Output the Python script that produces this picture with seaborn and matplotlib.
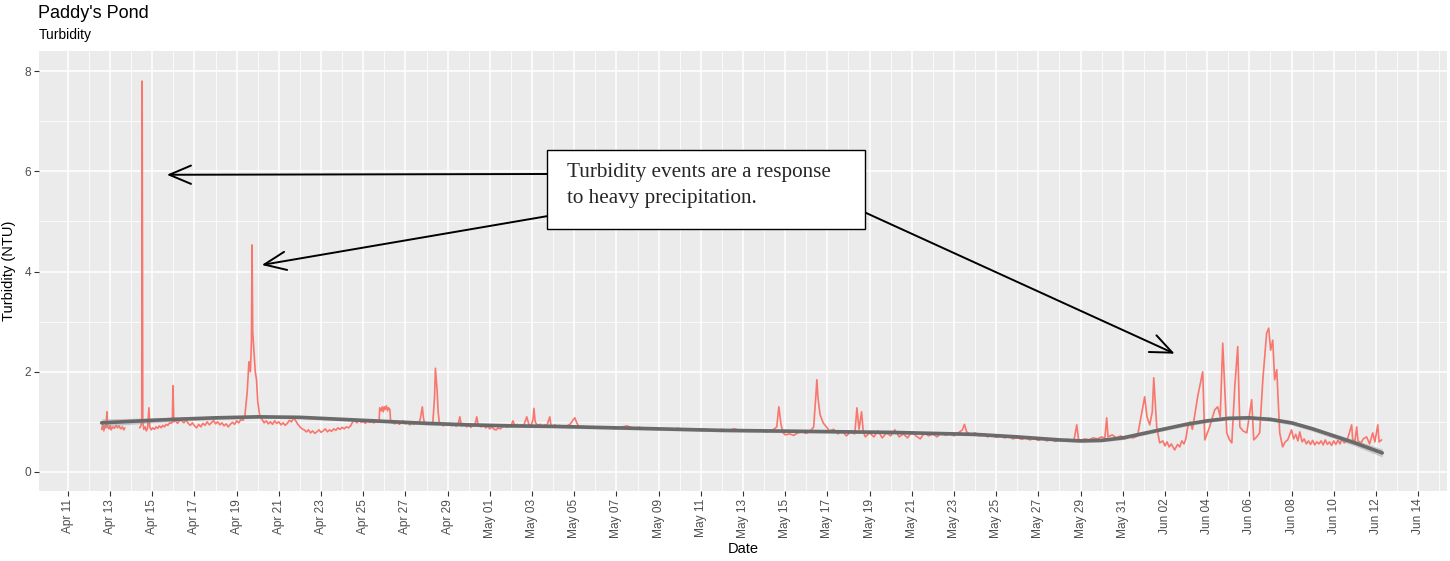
import numpy as np
import pandas as pd
import matplotlib
matplotlib.use("Agg")
import matplotlib.pyplot as plt
import matplotlib.dates as mdates
from matplotlib.patches import Rectangle
import seaborn as sns

# ---------------- data (days after Apr 11, 2019) ----------------
start_date = "2019-04-11"

seg1_days = [1.60, 1.65, 1.70, 1.75, 1.80, 1.85, 1.88, 1.95, 2.00, 2.05, 2.12, 2.20, 2.28,
             2.35, 2.42, 2.50, 2.58, 2.65, 2.70]
seg1_vals = [0.85, 0.95, 0.82, 0.92, 0.88, 1.20, 0.90, 0.86, 0.93, 0.84, 0.90, 0.87, 0.93,
             0.88, 0.92, 0.86, 0.90, 0.84, 0.88]

apr_days = [3.40, 3.46, 3.50, 3.52, 3.55, 3.60, 3.66, 3.72, 3.78, 3.84, 3.88, 3.95, 4.02, 4.10,
            4.18, 4.26, 4.34, 4.42, 4.50, 4.58, 4.66, 4.74, 4.82, 4.90, 4.95, 4.98, 5.02, 5.10,
            5.20, 5.30, 5.40, 5.50, 5.60, 5.70, 5.80, 5.90, 6.00, 6.10, 6.20, 6.30, 6.40, 6.50,
            6.60, 6.70, 6.80, 6.90, 7.00, 7.10, 7.20, 7.30, 7.40, 7.50, 7.60, 7.70, 7.80, 7.90,
            8.00, 8.10, 8.20, 8.30, 8.39, 8.50, 8.58, 8.65, 8.70, 8.73, 8.76, 8.82, 8.88, 8.94,
            9.00, 9.10, 9.20, 9.30, 9.40, 9.50, 9.60, 9.70, 9.80, 9.90, 10.0, 10.1, 10.2, 10.3,
            10.4, 10.5, 10.6, 10.7, 10.8, 10.9, 11.0, 11.1, 11.2, 11.3, 11.4, 11.5, 11.6, 11.7,
            11.8, 11.9, 12.0, 12.1, 12.2, 12.3, 12.4, 12.5, 12.6, 12.7, 12.8, 12.9, 13.0, 13.1,
            13.2, 13.3, 13.4, 13.5, 13.6, 13.7, 13.8, 13.9, 14.0, 14.1, 14.2, 14.3, 14.4, 14.5,
            14.6, 14.75, 14.78, 14.85, 14.9, 14.95, 15.0, 15.05, 15.1, 15.15, 15.2, 15.26, 15.3,
            15.4, 15.5, 15.6, 15.7, 15.8, 15.9, 16.0, 16.1, 16.2, 16.3, 16.4, 16.5, 16.6, 16.7,
            16.8, 16.85, 16.9, 17.0, 17.1, 17.2, 17.3, 17.38, 17.42, 17.46, 17.5, 17.55, 17.6,
            17.7, 17.8, 17.9, 18.0, 18.1, 18.2, 18.3, 18.4, 18.5, 18.58, 18.65, 18.8, 18.9, 19.0,
            19.1, 19.2, 19.3, 19.38, 19.45, 19.6, 19.7, 19.8, 19.9]
apr_vals = [0.88, 0.92, 1.00, 7.80, 1.00, 0.85, 0.90, 0.82, 0.88, 1.28, 0.90, 0.84, 0.88, 0.85,
            0.90, 0.87, 0.92, 0.88, 0.93, 0.90, 0.95, 0.93, 0.98, 0.97, 1.00, 1.72, 1.00, 1.02,
            0.97, 1.04, 1.02, 0.98, 1.04, 0.97, 0.93, 0.98, 0.92, 0.88, 0.95, 0.90, 0.97, 0.93,
            1.00, 0.94, 0.98, 1.03, 0.96, 1.00, 0.94, 0.98, 0.92, 0.96, 0.90, 0.95, 0.99, 0.95,
            1.02, 0.98, 1.05, 1.03, 1.12, 1.60, 2.20, 2.00, 2.60, 4.53, 2.80, 2.40, 2.00, 1.84,
            1.40, 1.10, 1.05, 0.98, 1.02, 0.96, 1.00, 0.95, 1.02, 0.97, 1.00, 0.94, 0.98, 0.93,
            0.97, 1.03, 1.00, 1.08, 1.02, 0.95, 0.90, 0.86, 0.84, 0.80, 0.84, 0.78, 0.82, 0.77,
            0.80, 0.84, 0.79, 0.82, 0.86, 0.80, 0.84, 0.81, 0.86, 0.83, 0.88, 0.85, 0.89, 0.86,
            0.90, 0.88, 0.92, 1.00, 1.02, 0.98, 1.03, 0.99, 1.01, 0.97, 1.02, 0.99, 1.00, 0.98,
            1.01, 1.00, 1.28, 1.22, 1.30, 1.20, 1.30, 1.25, 1.32, 1.22, 1.28, 1.25, 1.00,
            0.98, 0.96, 1.00, 0.95, 0.98, 1.02, 0.96, 0.99, 0.94, 0.97, 0.95, 0.99, 0.96, 1.05,
            1.30, 1.08, 0.98, 0.95, 0.97, 0.95, 1.00, 1.50, 2.07, 1.85, 1.63, 1.20, 1.00,
            0.95, 0.92, 0.96, 0.93, 0.97, 0.92, 0.95, 0.91, 0.96, 1.10, 0.92, 0.95, 0.90, 0.94,
            0.89, 0.93, 0.95, 1.10, 0.93, 0.90, 0.93, 0.88, 0.91]

may_days = [20.0, 20.1, 20.2, 20.3, 20.4, 20.5, 20.6, 20.7, 20.8, 20.9, 21.0, 21.09, 21.2, 21.3,
            21.4, 21.5, 21.6, 21.75, 21.85, 21.95, 22.05, 22.09, 22.15, 22.25, 22.4, 22.5, 22.6,
            22.7, 22.84, 22.9, 23.0, 23.1, 23.2, 23.3, 23.4, 23.5, 23.6, 23.7, 23.8, 23.95, 24.03,
            24.1, 24.2, 24.3, 24.4, 24.7, 25.0, 25.3, 25.6, 25.9, 26.2, 26.5, 26.8, 27.1, 27.4,
            27.7, 28.0, 28.3, 28.6, 28.9, 29.2, 29.5, 29.8, 30.1, 30.4, 30.7, 31.0, 31.3, 31.6,
            31.9, 32.2, 32.5, 32.8, 33.1, 33.4, 33.6, 33.7, 33.8, 33.9, 34.0, 34.2, 34.4, 34.6,
            34.8, 35.0, 35.2, 35.35, 35.45, 35.5, 35.55, 35.65, 35.8, 35.95, 36.1, 36.3, 36.5,
            36.7, 36.9, 37.1, 37.3, 37.4, 37.5, 37.62, 37.7, 37.8, 38.0, 38.2, 38.4, 38.6, 38.8,
            39.0, 39.2, 39.4, 39.6, 39.8, 40.0, 40.2, 40.4, 40.6, 40.8, 41.0, 41.2, 41.4, 41.6,
            41.8, 42.0, 42.2, 42.4, 42.5, 42.6, 42.8, 43.0, 43.2, 43.4, 43.6, 43.8, 44.0, 44.2,
            44.4, 44.6, 44.8, 45.0, 45.2, 45.4, 45.6, 45.8, 46.0, 46.2, 46.4, 46.6, 46.8, 47.0,
            47.2, 47.4, 47.6, 47.7, 47.82, 47.9, 48.0, 48.2, 48.4, 48.6, 48.8, 49.0, 49.15,
            49.24, 49.3, 49.5, 49.7, 49.9, 50.1, 50.3, 50.5, 50.7]
may_vals = [0.86, 0.90, 0.85, 0.84, 0.88, 0.86, 0.90, 0.92, 0.89, 0.93, 0.90, 1.02, 0.92, 0.95,
            0.91, 0.94, 0.92, 1.10, 0.95, 0.92, 1.05, 1.27, 1.00, 0.93, 0.95, 0.91, 0.94,
            0.92, 1.10, 0.93, 0.91, 0.94, 0.90, 0.93, 0.89, 0.92, 0.90, 0.93, 0.95, 1.04, 1.08,
            1.00, 0.92, 0.90, 0.91, 0.88, 0.90, 0.87, 0.90, 0.86, 0.89, 0.92, 0.87, 0.89, 0.86,
            0.88, 0.85, 0.87, 0.84, 0.87, 0.85, 0.86, 0.83, 0.86, 0.84, 0.82, 0.85, 0.83, 0.86,
            0.82, 0.84, 0.81, 0.83, 0.80, 0.83, 0.90, 1.30, 0.95, 0.78, 0.74, 0.76, 0.73, 0.78,
            0.80, 0.77, 0.82, 0.90, 1.50, 1.84, 1.50, 1.15, 0.98, 0.90, 0.82, 0.85, 0.76,
            0.82, 0.72, 0.80, 0.76, 1.28, 0.85, 1.20, 0.80, 0.70, 0.78, 0.70, 0.82, 0.68, 0.78,
            0.72, 0.84, 0.70, 0.76, 0.68, 0.80, 0.72, 0.66, 0.78, 0.72, 0.76, 0.70, 0.78, 0.73,
            0.77, 0.72, 0.78, 0.84, 0.95, 0.80, 0.74, 0.78, 0.72, 0.76, 0.70, 0.74, 0.69, 0.72,
            0.68, 0.71, 0.66, 0.69, 0.65, 0.68, 0.64, 0.67, 0.63, 0.66, 0.62, 0.65, 0.61, 0.64,
            0.62, 0.65, 0.62, 0.66, 0.94, 0.66, 0.63, 0.66, 0.64, 0.68, 0.66, 0.70, 0.67,
            1.08, 0.70, 0.74, 0.68, 0.72, 0.66, 0.70, 0.68, 0.72]

jun_days = [50.9, 51.04, 51.15, 51.28, 51.4, 51.47, 51.61, 51.75, 51.9, 52.0, 52.1, 52.2, 52.3,
            52.46, 52.6, 52.7, 52.8, 52.9, 52.99, 53.08, 53.2, 53.3, 53.4, 53.55, 53.79, 53.89,
            54.12, 54.36, 54.5, 54.62, 54.74, 54.93, 55.05, 55.17, 55.31, 55.45, 55.55, 55.7,
            55.88, 56.11, 56.21, 56.35, 56.49, 56.64, 56.82, 56.92, 57.01, 57.11, 57.2, 57.3,
            57.44, 57.58, 57.7, 57.82, 58.0, 58.1, 58.2, 58.3, 58.39, 58.5, 58.6, 58.7, 58.8,
            58.9, 59.0, 59.1, 59.2, 59.3, 59.4, 59.5, 59.6, 59.7, 59.8, 59.9, 60.0, 60.1, 60.2,
            60.3, 60.4, 60.5, 60.62, 60.7, 60.85, 60.9, 61.0, 61.09, 61.15, 61.3, 61.4, 61.56,
            61.7, 61.85, 61.95, 62.09, 62.15, 62.27]
jun_vals = [1.18, 1.50, 1.10, 0.94, 1.20, 1.88, 0.90, 0.58, 0.62, 0.52, 0.60, 0.50, 0.56,
            0.44, 0.55, 0.50, 0.62, 0.56, 0.66, 0.90, 1.00, 0.85, 1.10, 1.50, 2.00, 0.64,
            0.90, 1.24, 1.30, 1.10, 2.57, 0.78, 0.65, 0.58, 1.70, 2.50, 0.90, 0.82,
            0.78, 1.44, 0.64, 0.70, 0.78, 1.84, 2.77, 2.87, 2.43, 2.63, 1.84, 2.04,
            0.78, 0.50, 0.60, 0.64, 0.84, 0.66, 0.75, 0.62, 0.80, 0.60, 0.66, 0.56, 0.62,
            0.55, 0.63, 0.54, 0.60, 0.56, 0.62, 0.54, 0.64, 0.55, 0.60, 0.53, 0.62, 0.55, 0.63,
            0.56, 0.66, 0.58, 0.62, 0.72, 0.94, 0.65, 0.60, 0.90, 0.62, 0.58, 0.66, 0.70,
            0.56, 0.78, 0.60, 0.94, 0.60, 0.64]

smooth_days = [1.6, 3, 5, 7, 9, 11, 13, 15, 17, 19, 21, 23, 25, 27, 29, 31, 33, 35, 37, 39, 41,
               43, 45, 47, 48, 49, 50, 51, 52, 53, 54, 55, 56, 57, 58, 59, 60, 61, 62.3]
smooth_vals = [0.98, 1.01, 1.05, 1.08, 1.10, 1.09, 1.05, 1.01, 0.97, 0.94, 0.92, 0.91, 0.89,
               0.87, 0.85, 0.83, 0.82, 0.81, 0.80, 0.79, 0.77, 0.75, 0.70, 0.64, 0.62, 0.63,
               0.68, 0.77, 0.86, 0.95, 1.02, 1.07, 1.08, 1.05, 0.98, 0.86, 0.72, 0.58, 0.38]
smooth_se = [0.08, 0.06, 0.04, 0.035, 0.03, 0.03, 0.03, 0.03, 0.03, 0.03, 0.03, 0.03, 0.03,
             0.03, 0.03, 0.03, 0.03, 0.03, 0.03, 0.03, 0.03, 0.03, 0.03, 0.03, 0.03, 0.03,
             0.035, 0.035, 0.035, 0.035, 0.035, 0.035, 0.035, 0.04, 0.04, 0.045, 0.05, 0.06, 0.08]

tick_dates = pd.date_range("2019-04-11", "2019-06-14", freq="2D")
title = "Paddy's Pond"
subtitle = "Turbidity"
note_lines = ["Turbidity events are a response", "to heavy precipitation."]

# ---------------- build frames ----------------
t0 = pd.Timestamp(start_date)
def to_dt(days):
    return t0 + pd.to_timedelta(np.asarray(days, dtype=float), unit="D")

df = pd.concat([
    pd.DataFrame({"Date": to_dt(seg1_days), "Turbidity": seg1_vals, "seg": 0}),
    pd.DataFrame({"Date": to_dt(apr_days + may_days + jun_days),
                  "Turbidity": apr_vals + may_vals + jun_vals, "seg": 1}),
], ignore_index=True)
sm = pd.DataFrame({"Date": to_dt(smooth_days), "fit": smooth_vals,
                   "se": smooth_se})

# ---------------- figure ----------------
sns.set_theme(style="darkgrid")
plt.rcParams["font.family"] = ["Liberation Sans", "DejaVu Sans"]

W, H = 1450, 561
fig = plt.figure(figsize=(W / 100, H / 100), dpi=100)
L, R, T, B = 39, 1447, 51, 491
ax = fig.add_axes([L / W, 1 - B / H, (R - L) / W, (B - T) / H])
ax.set_facecolor("#EBEBEB")
for s in ax.spines.values():
    s.set_visible(False)

sns.lineplot(data=df, x="Date", y="Turbidity", units="seg", estimator=None,
             color="#F8766D", linewidth=1.2, ax=ax, zorder=3)
ax.fill_between(sm["Date"], sm["fit"] - sm["se"], sm["fit"] + sm["se"],
                color="#999999", alpha=0.45, linewidth=0, zorder=4)
sns.lineplot(data=sm, x="Date", y="fit", color="#6A6A6A", linewidth=2.6, ax=ax, zorder=5)

# axes limits
ax.set_xlim(mdates.date2num(t0 + pd.Timedelta(days=-1.37)),
            mdates.date2num(t0 + pd.Timedelta(days=65.37)))
ax.set_ylim(-0.38, 8.4)

# ticks / grid
ax.xaxis.set_major_locator(matplotlib.ticker.FixedLocator(mdates.date2num(tick_dates)))
ax.xaxis.set_minor_locator(matplotlib.ticker.FixedLocator(
    mdates.date2num(tick_dates + pd.Timedelta(days=1))))
ax.xaxis.set_major_formatter(mdates.DateFormatter("%b %d"))
ax.set_yticks([0, 2, 4, 6, 8])
ax.set_yticks([1, 3, 5, 7], minor=True)
ax.grid(which="major", color="white", linewidth=1.1)
ax.grid(which="minor", color="white", linewidth=0.55)
ax.tick_params(axis="both", which="major", length=3.5, width=0.8, color="#333333",
               labelcolor="#4D4D4D", labelsize=8.6, pad=2, bottom=True, left=True)
ax.tick_params(axis="both", which="minor", length=0)
for lab in ax.get_xticklabels():
    lab.set_rotation(90)
    lab.set_ha("center")
    lab.set_va("top")

ax.set_xlabel("Date", fontsize=10.5, color="black", labelpad=3)
ax.set_ylabel("Turbidity (NTU)", fontsize=10.5, color="black", labelpad=6)

# titles
fig.text(38 / W, 1 - 13 / H, title, fontsize=13, va="center", ha="left", color="black")
fig.text(39 / W, 1 - 35 / H, subtitle, fontsize=10, va="center", ha="left", color="black")

# arrows
def dnum(d):
    return mdates.date2num(t0 + pd.Timedelta(days=d))

aprops = dict(arrowstyle="->,head_length=1.3,head_width=0.55", color="black", lw=1.4,
              shrinkA=0, shrinkB=0)
arrow_targets = [(4.69, 5.93), (9.19, 4.13), (52.46, 2.36)]
arrow_starts = [(548, 174), (548, 216), (864, 212)]
for (dx, vy), (px, py) in zip(arrow_targets, arrow_starts):
    ax.annotate("", xy=(dnum(dx), vy), xycoords="data",
                xytext=(px / W, 1 - py / H), textcoords="figure fraction",
                arrowprops=aprops, zorder=6)

# note box
fig.patches.append(Rectangle((547 / W, 1 - 229 / H), (865 - 547) / W, (229 - 150) / H,
                             transform=fig.transFigure, facecolor="white",
                             edgecolor="black", linewidth=1.0, zorder=10))
fig.text(567 / W, 1 - 172 / H, note_lines[0], fontsize=15.2, family="Liberation Serif",
         va="center", ha="left", zorder=11)
fig.text(567 / W, 1 - 199 / H, note_lines[1], fontsize=15.2, family="Liberation Serif",
         va="center", ha="left", zorder=11)

fig.savefig("out.png", dpi=100)
